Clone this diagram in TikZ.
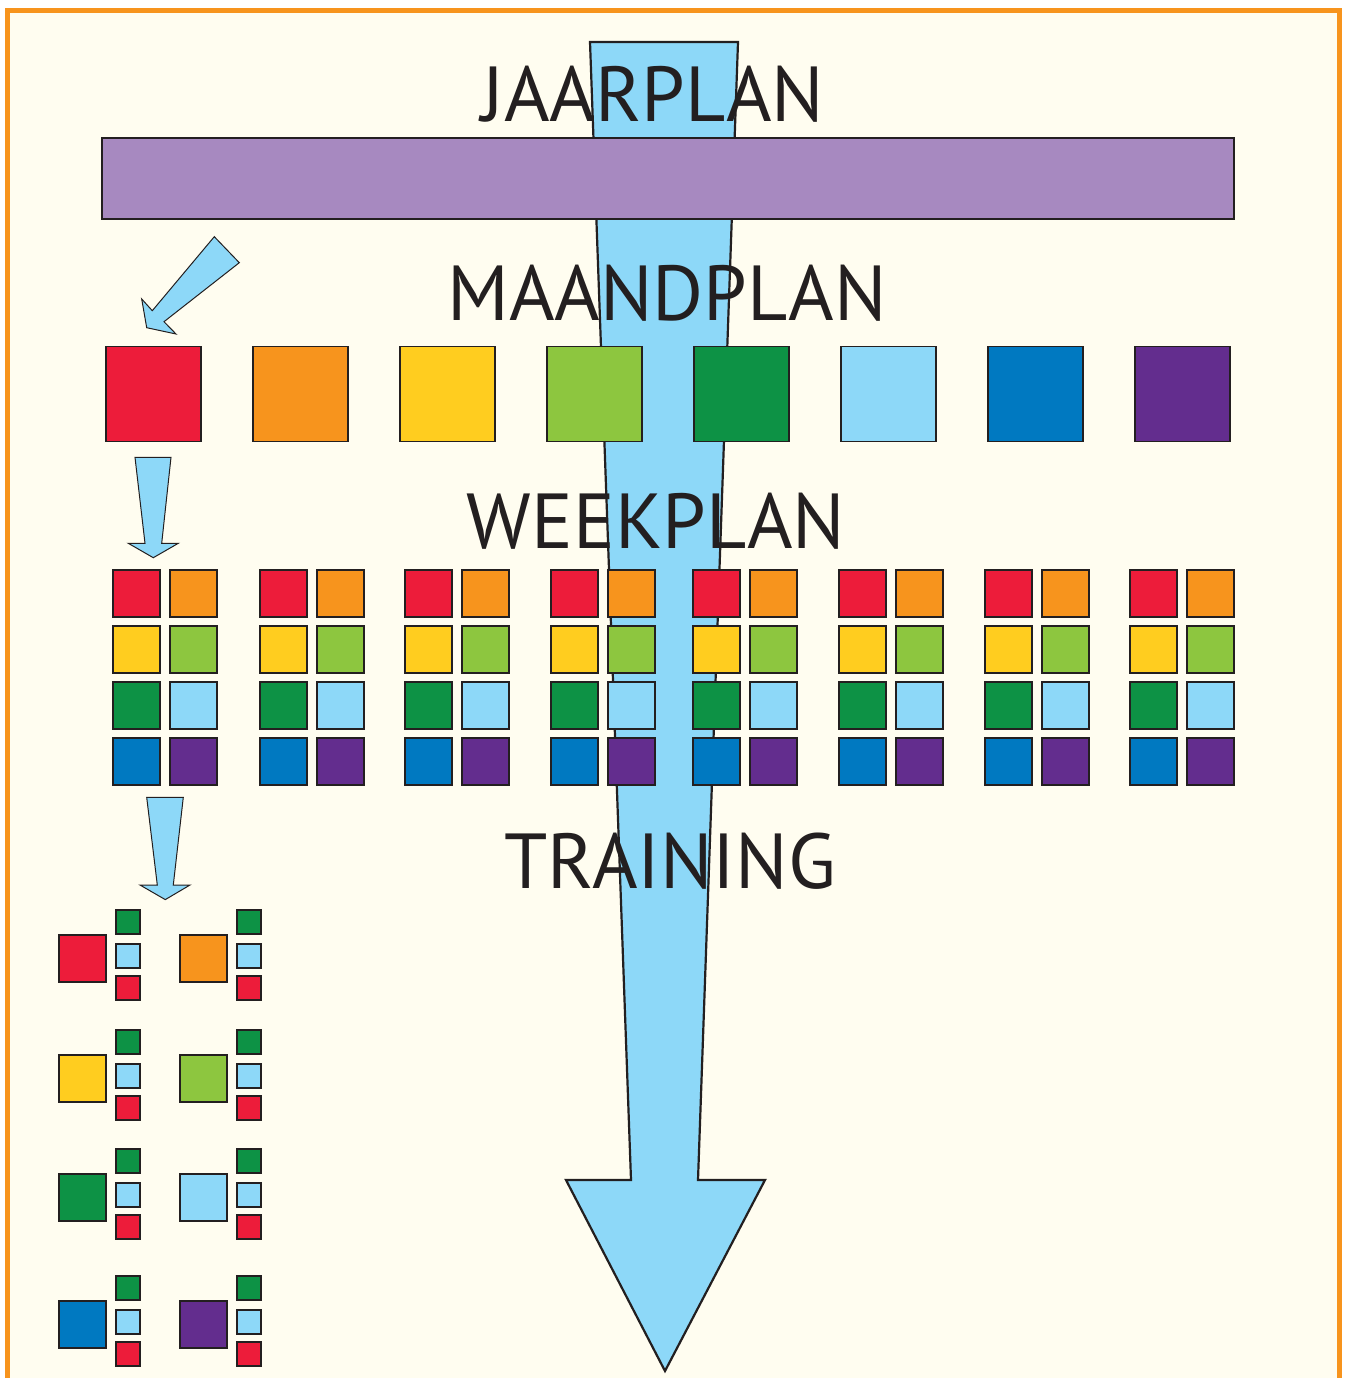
\documentclass[tikz,border=0pt]{standalone}
\usepackage{fontspec}
\setmainfont{PT Sans}

\definecolor{cream}{RGB}{255,253,240}
\definecolor{frameorange}{RGB}{247,148,29}
\definecolor{linegray}{RGB}{35,31,32}
\definecolor{pijlblauw}{RGB}{141,216,248}
\definecolor{balkpaars}{RGB}{167,137,192}
\definecolor{rood}{RGB}{237,28,58}
\definecolor{oranje}{RGB}{247,148,29}
\definecolor{geel}{RGB}{255,205,31}
\definecolor{lichtgroen}{RGB}{141,198,63}
\definecolor{groen}{RGB}{13,146,69}
\definecolor{lichtblauw}{RGB}{141,216,248}
\definecolor{blauw}{RGB}{0,121,193}
\definecolor{paars}{RGB}{99,45,142}

\tikzstyle{plan}=[font=\fontsize{78}{80}\selectfont,text=linegray,anchor=base,inner sep=0pt]
\tikzstyle{blok}=[rectangle,draw=linegray,line width=1.2pt,inner sep=0pt]
\tikzstyle{pijl}=[fill=pijlblauw,draw=linegray,line width=1pt,line join=miter]

\begin{document}
\begin{tikzpicture}[x=1pt,y=-1pt]
	\useasboundingbox (0,0) rectangle (1349,1378);
	\fill[white] (0,0) rectangle (1349,1378);
	\filldraw[fill=cream,draw=frameorange,line width=5pt] (7.5,1420) -- (7.5,10.5) -- (1339,10.5) -- (1339,1420);

	% Big arrow
	\filldraw[pijl,line width=2.2pt] (590,42) -- (738,42) -- (698,1180) -- (765,1180) -- (665,1371) -- (566,1180) -- (631,1180) -- cycle;

	% Jaarplan
	\node[blok,fill=balkpaars,minimum width=1132pt,minimum height=81pt] (jaar) at (668,178.5) {};
	\node[plan] (jaarplan) at (653,122) {JAARPLAN};

	% Maandplan
	\node[plan] (maandplan) at (667,320) {MAANDPLAN};
	\filldraw[pijl] (214.3,236.7) -- (239.3,262.7) -- (164,321.7) -- (176,334) -- (146.7,327.7) -- (141.7,299) -- (152.3,310.7) -- cycle;
	\foreach \kleur [count=\i] in {rood,oranje,geel,lichtgroen,groen,lichtblauw,blauw,paars}
		\node[blok,fill=\kleur,minimum size=95pt] (maand\i) at ({106+147*(\i-1)+47.5},394) {};

	% Weekplan
	\node[plan] (weekplan) at (656,548) {WEEKPLAN};
	\filldraw[pijl] (135,457.3) -- (171,457.3) -- (161.7,543.3) -- (178.3,543.3) -- (153.3,557.7) -- (128.3,543.3) -- (145,543.3) -- cycle;
	\foreach \x [count=\g] in {113,260,405,551,693,839,985,1130} {
		\node[blok,fill=rood,minimum size=47pt] (week\g-1) at (\x+23.5,593.5) {};
		\node[blok,fill=oranje,minimum size=47pt] (week\g-2) at (\x+80.5,593.5) {};
		\node[blok,fill=geel,minimum size=47pt] (week\g-3) at (\x+23.5,649.5) {};
		\node[blok,fill=lichtgroen,minimum size=47pt] (week\g-4) at (\x+80.5,649.5) {};
		\node[blok,fill=groen,minimum size=47pt] (week\g-5) at (\x+23.5,705.5) {};
		\node[blok,fill=lichtblauw,minimum size=47pt] (week\g-6) at (\x+80.5,705.5) {};
		\node[blok,fill=blauw,minimum size=47pt] (week\g-7) at (\x+23.5,761.5) {};
		\node[blok,fill=paars,minimum size=47pt] (week\g-8) at (\x+80.5,761.5) {};
	}

	% Training
	\node[plan] (training) at (670,888) {TRAINING};
	\filldraw[pijl] (146.7,797.3) -- (183.3,797.3) -- (173.3,885) -- (190,885) -- (165.3,899.6) -- (140,885) -- (157.3,885) -- cycle;
	\foreach \kleur/\x/\y [count=\t] in {rood/59/935,oranje/180/935,geel/59/1055,lichtgroen/180/1055,groen/59/1174,lichtblauw/180/1174,blauw/59/1301,paars/180/1301} {
		\node[blok,fill=\kleur,minimum size=47pt] (train\t) at (\x+23.5,\y+23.5) {};
		\node[blok,fill=groen,minimum size=24pt] (train\t-a) at (\x+69,\y-13) {};
		\node[blok,fill=lichtblauw,minimum size=24pt] (train\t-b) at (\x+69,\y+21) {};
		\node[blok,fill=rood,minimum size=24pt] (train\t-c) at (\x+69,\y+53) {};
	}
\end{tikzpicture}
\end{document}
